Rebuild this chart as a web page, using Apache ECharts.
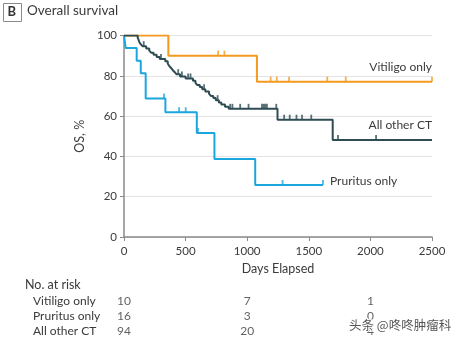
<!DOCTYPE html>
<html>
<head>
<meta charset="utf-8">
<script src="https://cdn.jsdelivr.net/npm/echarts@6/dist/echarts.min.js"></script>
<style>
  html, body { margin: 0; padding: 0; background: #fff; }
  #chart { width: 453px; height: 341px; }
</style>
</head>
<body>
<div id="chart"></div>
<script>
// Kaplan-Meier overall survival, step points as [day, OS %]
const vitiligoCurve = [[0, 100], [360, 90], [1079, 77.1], [2500, 77.1]];
const vitiligoCensor = [[764, 90], [815, 90], [1190, 77.1], [1240, 77.1], [1340, 77.1], [1650, 77.1], [1800, 77.1], [2500, 77.1]];

const pruritusCurve = [[0, 100], [14, 93.75], [103, 87.5], [136, 81.25], [176, 68.75], [336, 61.9], [591, 51.6], [734, 38.7], [1065, 25.8], [1615, 25.8]];
const pruritusCensor = [[325, 68.75], [447, 61.9], [501, 61.9], [600, 51.6], [1287, 25.8], [1615, 25.8]];

const otherCurve = [[0, 100], [111, 98.9], [118, 97.9], [124, 96.8], [135, 95.7], [150, 94.7], [180, 93.6], [205, 92.5],
  [220, 91.5], [240, 90.4], [265, 89.3], [290, 88.3], [335, 87.2], [355, 86.1], [365, 85.1], [380, 84.0], [395, 82.9],
  [410, 81.9], [425, 80.8], [455, 79.7], [500, 78.7], [560, 77.6], [580, 76.5], [595, 75.4], [615, 74.4], [635, 73.3],
  [660, 72.2], [690, 71.1], [705, 70.0], [725, 69.0], [745, 67.9], [770, 66.8], [790, 65.7], [820, 64.7], [850, 63.6],
  [1246, 58.2], [1694, 48.1], [2500, 48.1]];
const otherCensor = [[160, 94.7], [300, 88.3], [440, 80.8], [470, 79.7], [520, 78.7], [540, 78.7], [650, 73.3], [760, 67.9],
  [862, 63.6], [880, 63.6], [943, 63.6], [1011, 63.6], [1120, 63.6], [1133, 63.6], [1145, 63.6], [1160, 63.6], [1236, 63.6],
  [1300, 58.2], [1345, 58.2], [1400, 58.2], [1445, 58.2], [1520, 58.2], [1737, 48.1], [2046, 48.1]];

// Number at risk table
const riskGroups = ['Vitiligo only', 'Pruritus only', 'All other CT'];
const riskDays = [0, 1000, 2000];
const vitiligoRisk = [10, 7, 1];
const pruritusRisk = [16, 3, 0];
const otherRisk = [94, 20, 4];

const C_VIT = '#F39A1F';
const C_PRU = '#1BA6DE';
const C_OTH = '#2F4C55';
const FONT = 'Lato';
const TXT = '#3a3a3a';

const riskData = [];
[vitiligoRisk, pruritusRisk, otherRisk].forEach((row, r) => {
  row.forEach((n, i) => riskData.push([riskDays[i], riskGroups[r], n]));
});

function curve(name, data, color) {
  return {
    name, type: 'line', step: 'end', data, xAxisIndex: 0, yAxisIndex: 0,
    symbol: 'none', lineStyle: { color, width: 2 }, silent: true, z: 3
  };
}
function censor(name, data, color) {
  return {
    name: name + ' censored', type: 'scatter', data, xAxisIndex: 0, yAxisIndex: 0,
    symbol: 'rect', symbolSize: [1.8, 5], symbolOffset: [0, -2.5],
    itemStyle: { color }, silent: true, z: 4
  };
}

const chart = echarts.init(document.getElementById('chart'), null, { renderer: 'canvas' });
chart.setOption({
  animation: false,
  backgroundColor: '#fff',
  textStyle: { fontFamily: FONT },
  grid: [
    { left: 124, right: 21, top: 35.5, bottom: 104 },
    { left: 124, right: 21, top: 294, height: 45 }
  ],
  xAxis: [
    {
      type: 'value', gridIndex: 0, min: 0, max: 2500, interval: 500,
      name: 'Days Elapsed', nameLocation: 'middle', nameGap: 25,
      nameTextStyle: { fontFamily: FONT, fontSize: 12.5, color: TXT },
      axisLine: { show: true, lineStyle: { color: '#8a8a8a', width: 1.5 } },
      axisTick: { show: true, length: 4, lineStyle: { color: '#8a8a8a' } },
      axisLabel: { margin: 8, fontFamily: FONT, fontSize: 11.5, color: TXT, formatter: v => String(v) },
      splitLine: { show: false }
    },
    {
      type: 'value', gridIndex: 1, min: 0, max: 2500, show: false
    }
  ],
  yAxis: [
    {
      type: 'value', gridIndex: 0, min: 0, max: 100, interval: 20,
      name: 'OS, %', nameLocation: 'middle', nameGap: 28, nameRotate: 90,
      nameTextStyle: { fontFamily: FONT, fontSize: 12.5, color: TXT },
      axisLine: { show: true, lineStyle: { color: '#8a8a8a', width: 1.5 } },
      axisTick: { show: true, length: 4, lineStyle: { color: '#8a8a8a' } },
      axisLabel: { margin: 7, fontFamily: FONT, fontSize: 11.5, color: TXT },
      splitLine: { show: true, lineStyle: { color: '#e3e3e3', width: 1 } }
    },
    {
      type: 'category', gridIndex: 1, data: riskGroups, inverse: true,
      axisLine: { show: false }, axisTick: { show: false }, splitLine: { show: false },
      axisLabel: { interval: 0, hideOverlap: false, align: 'left', margin: 91, fontFamily: FONT, fontSize: 12, color: TXT }
    }
  ],
  graphic: [
    { type: 'rect', left: 3, top: 3, shape: { width: 18, height: 18 }, style: { fill: '#fff', stroke: '#8a8a8a', lineWidth: 1 } },
    { type: 'text', left: 7.5, top: 5, style: { text: 'B', font: 'bold 13px ' + FONT, fill: '#333' } },
    { type: 'text', left: 27, top: 4, style: { text: 'Overall survival', font: '13.5px ' + FONT, fill: TXT } },
    { type: 'text', right: 21, top: 61, style: { text: 'Vitiligo only', font: '12px ' + FONT, fill: TXT } },
    { type: 'text', right: 21, top: 119, style: { text: 'All other CT', font: '12px ' + FONT, fill: TXT } },
    { type: 'text', left: 330, top: 175, style: { text: 'Pruritus only', font: '12px ' + FONT, fill: TXT } },
    { type: 'text', left: 25, top: 278, style: { text: 'No. at risk', font: '12.5px ' + FONT, fill: TXT } },
    { type: 'text', left: 348, top: 318, z: 100, style: { text: '头条 @咚咚肿瘤科', font: '12.5px "Noto Sans CJK SC"', fill: '#555', stroke: '#fff', lineWidth: 2 } }
  ],
  series: [
    curve('Vitiligo only', vitiligoCurve, C_VIT),
    curve('Pruritus only', pruritusCurve, C_PRU),
    curve('All other CT', otherCurve, C_OTH),
    censor('Vitiligo only', vitiligoCensor, C_VIT),
    censor('Pruritus only', pruritusCensor, C_PRU),
    censor('All other CT', otherCensor, C_OTH),
    {
      name: 'No. at risk', type: 'scatter', xAxisIndex: 1, yAxisIndex: 1,
      data: riskData, symbolSize: 1, itemStyle: { color: 'rgba(0,0,0,0)' }, silent: true,
      label: {
        show: true, position: 'inside', formatter: p => String(p.value[2]),
        fontFamily: FONT, fontSize: 12, color: TXT
      }
    }
  ]
});
</script>
</body>
</html>
